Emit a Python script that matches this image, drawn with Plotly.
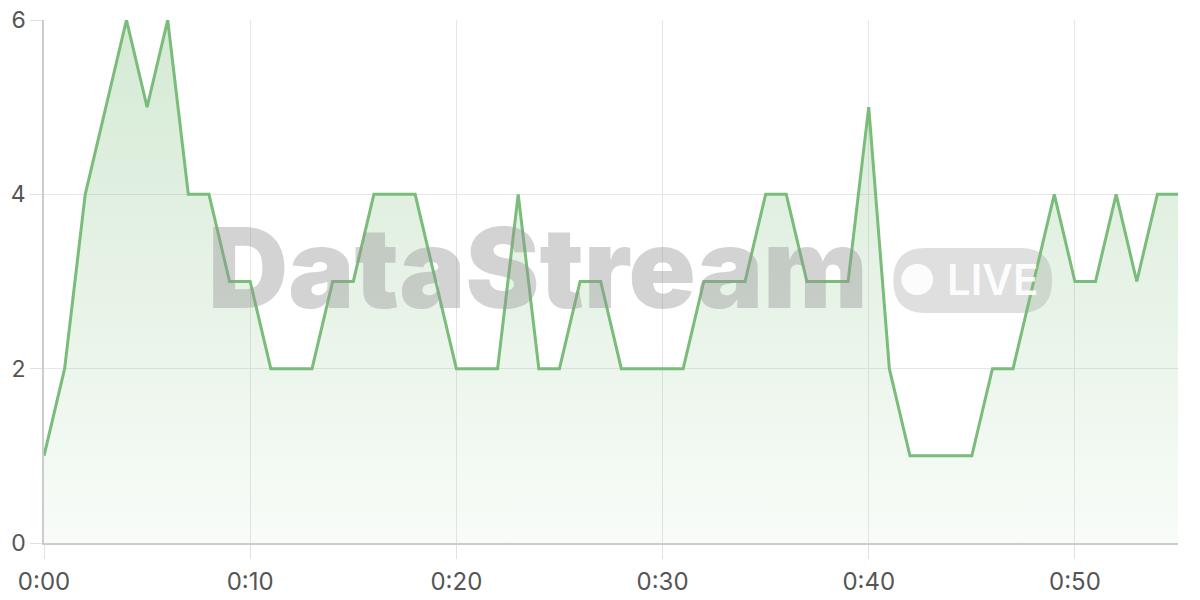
import plotly.graph_objects as go

minutes = list(range(56))
values = [1, 2, 4, 5, 6, 5, 6, 4, 4, 3, 3, 2, 2, 2, 3, 3, 4, 4, 4, 3,
          2, 2, 2, 4, 2, 2, 3, 3, 2, 2, 2, 2, 3, 3, 3, 4, 4, 3, 3, 3,
          5, 2, 1, 1, 1, 1, 2, 2, 3, 4, 3, 3, 4, 3, 4, 4]
tick_vals = [0, 10, 20, 30, 40, 50]
tick_text = ["0:00", "0:10", "0:20", "0:30", "0:40", "0:50"]

fig = go.Figure()
fig.add_trace(go.Scatter(
    x=minutes, y=values, mode="lines",
    line=dict(color="rgb(122,188,122)", width=3),
    fill="tozeroy",
    fillgradient=dict(type="vertical",
                      colorscale=[[0, "rgba(122,188,122,0.05)"], [1, "rgba(122,188,122,0.32)"]]),
    hoverinfo="skip",
))

# Watermark
fig.add_annotation(xref="paper", yref="paper", x=0.1425, y=0.526, xanchor="left", yanchor="middle",
                   text="DataStream", showarrow=False,
                   font=dict(family="Inter", size=111, weight=900, color="rgba(150,150,150,0.42)"))
x0, x1, y0, y1 = 0.749, 0.889, 0.440, 0.564
rx = 0.028
ym = (y0 + y1) / 2
pill = (f"M {x0+rx} {y1} L {x1-rx} {y1} Q {x1} {y1} {x1} {ym} Q {x1} {y0} {x1-rx} {y0} "
        f"L {x0+rx} {y0} Q {x0} {y0} {x0} {ym} Q {x0} {y1} {x0+rx} {y1} Z")
fig.add_shape(type="path", xref="paper", yref="paper", path=pill,
              fillcolor="rgba(150,150,150,0.3)", line=dict(width=0), layer="below")
fig.add_annotation(xref="paper", yref="paper", x=0.815, y=0.503, xanchor="center", yanchor="middle",
                   text="● LIVE", showarrow=False,
                   font=dict(family="Inter", size=42, weight=600, color="rgba(255,255,255,0.92)"))

fig.update_layout(
    width=1192, height=592,
    margin=dict(l=36, r=22, t=12, b=57),
    paper_bgcolor="white", plot_bgcolor="white",
    showlegend=False,
    font=dict(family="Inter", size=24, color="#555"),
    xaxis=dict(range=[0, 55], tickvals=tick_vals, ticktext=tick_text, automargin=False,
               showgrid=True, gridcolor="#e6e6e6", gridwidth=1,
               showline=True, linecolor="#cccccc", linewidth=1.5,
               ticks="outside", ticklen=14, tickcolor="#e0e0e0", zeroline=False,
               ticklabelstandoff=2),
    yaxis=dict(range=[0, 6], tickvals=[0, 2, 4, 6], automargin=False,
               showgrid=True, gridcolor="#e6e6e6", gridwidth=1,
               showline=True, linecolor="#cccccc", linewidth=1.5,
               ticks="outside", ticklen=12, tickcolor="#e0e0e0", zeroline=False,
               ticklabelstandoff=0, ticklabeloverflow="allow", tickfont=dict(size=23)),
)

fig.write_html("out.html")
